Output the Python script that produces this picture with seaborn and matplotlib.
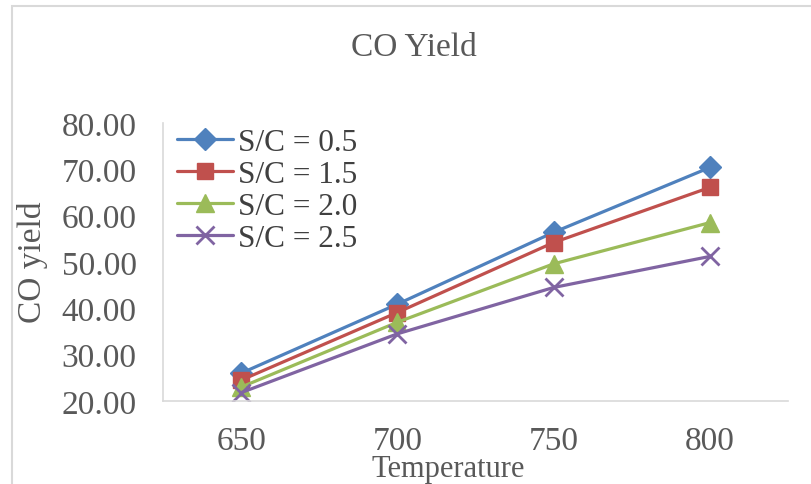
import matplotlib
matplotlib.use("Agg")
import matplotlib.pyplot as plt
import seaborn as sns
import pandas as pd
from matplotlib.patches import Rectangle

temperatures = [650, 700, 750, 800]
series_labels = ["S/C = 0.5", "S/C = 1.5", "S/C = 2.0", "S/C = 2.5"]
sc_05 = [26.0, 40.9, 56.4, 70.4]
sc_15 = [24.5, 39.1, 54.2, 66.1]
sc_20 = [23.0, 37.0, 49.6, 58.5]
sc_25 = [21.8, 34.5, 44.5, 51.2]
y_ticks = [20, 30, 40, 50, 60, 70, 80]

sns.set_theme(style="white")
plt.rcParams["font.family"] = ["Liberation Serif", "DejaVu Serif"]

series = [sc_05, sc_15, sc_20, sc_25]
colors = ["#4F81BD", "#C0504D", "#9BBB59", "#8064A2"]
markers = ["D", "s", "^", "x"]
msizes = [11, 11, 13, 13]

fig = plt.figure(figsize=(8.11, 4.85), dpi=100)
ax = fig.add_axes([163 / 811, 1 - 402 / 485, (788 - 163) / 811, (402 - 124) / 485])

lines = []
for lab, vals, c, mk, ms in zip(series_labels, series, colors, markers, msizes):
    d = pd.DataFrame({"Temperature": temperatures, "CO": vals})
    sns.lineplot(data=d, x="Temperature", y="CO", color=c, marker=mk,
                 markersize=ms, markeredgecolor=c, markerfacecolor=c,
                 markeredgewidth=(2.0 if mk == "x" else 1.0),
                 linewidth=2.3, ax=ax)
    lines.append(ax.get_lines()[-1])

ax.set_xlim(625, 825)
ax.set_ylim(20, 80)
ax.set_xticks(temperatures)
ax.set_xticklabels([str(t) for t in temperatures])
ax.set_yticks(y_ticks)
ax.set_yticklabels([f"{v:.2f}" for v in y_ticks])
ax.tick_params(axis="both", length=0, labelsize=24, labelcolor="#595959")
ax.tick_params(axis="y", pad=19)
ax.tick_params(axis="x", pad=18)

for s in ["top", "right"]:
    ax.spines[s].set_visible(False)
ax.spines["left"].set_color("#D9D9D9")
ax.spines["bottom"].set_color("#D9D9D9")
ax.spines["left"].set_linewidth(1.2)
ax.spines["bottom"].set_linewidth(1.2)
ax.grid(False)

ax.set_xlabel("Temperature", fontsize=22, color="#595959")
ax.set_ylabel("CO yield", fontsize=24, color="#595959")
ax.xaxis.set_label_coords((448 - 163) / (788 - 163), -(470 - 402) / (402 - 124), transform=ax.transAxes)
ax.xaxis.label.set_va("center")
ax.yaxis.set_label_coords(-(163 - 33) / (788 - 163), (402 - 262) / (402 - 124), transform=ax.transAxes)
ax.yaxis.label.set_va("center")

fig.text(414 / 811, 1 - 48 / 485, "CO Yield", fontsize=24, color="#595959",
         ha="center", va="center")

fig.legend(lines, series_labels, loc="upper left",
           bbox_to_anchor=(177 / 811, 1 - 129 / 485), frameon=False,
           fontsize=22.5, handlelength=1.8, handletextpad=0.15,
           labelspacing=0.1, borderpad=0, borderaxespad=0,
           labelcolor="#404040")

border = Rectangle((12 / 811, -0.1), 1.2, 1 - 7 / 485 + 0.1, transform=fig.transFigure,
                   fill=False, edgecolor="#D9D9D9", linewidth=1.5)
fig.add_artist(border)

fig.savefig("out.png", dpi=100)
